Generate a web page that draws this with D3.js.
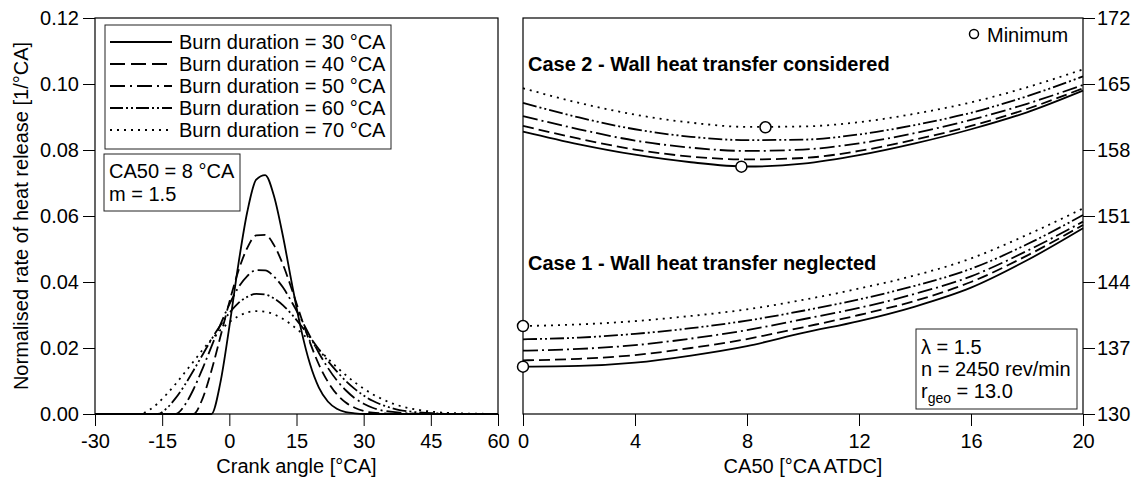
<!DOCTYPE html>
<html lang="en">
<head>
<meta charset="UTF-8">
<title>Burn duration and CA50</title>
<script src="https://d3js.org/d3.v7.min.js"></script>
<style>
  body { margin: 0; background: #fff; }
  svg { display: block; font-family: "Liberation Sans", Arial, sans-serif; }
</style>
</head>
<body>
<script>
// ---- data ----
const burnDurations = [30, 40, 50, 60, 70];

// crank angle grid [°CA] for the heat release curves
const crankAngle = [-30, -28, -26, -24, -22, -20, -18, -16, -14, -12, -10, -8, -6, -4, -2, 0,
  2, 4, 6, 8, 10, 12, 14, 16, 18, 20, 22, 24, 26, 28, 30, 32, 34, 36, 38, 40, 42, 44, 46, 48,
  50, 52, 54, 56, 58, 60];

// normalised rate of heat release [1/°CA], one array per burn duration
const hrr30 = [0, 0, 0, 0, 0, 0, 0, 0, 0, 0, 0, 0, 0, 0, 0.0095, 0.0264,
  0.0452, 0.0612, 0.0710, 0.0724, 0.0659, 0.0537, 0.0393, 0.0258, 0.0152, 0.0080, 0.0038, 0.0016, 0.0006, 0.0002, 0, 0, 0, 0, 0, 0, 0, 0, 0, 0,
  0, 0, 0, 0, 0, 0];
const hrr40 = [0, 0, 0, 0, 0, 0, 0, 0, 0, 0, 0, 0, 0.0046, 0.0131, 0.0234, 0.0339,
  0.0433, 0.0503, 0.0541, 0.0543, 0.0511, 0.0452, 0.0376, 0.0294, 0.0217, 0.0150, 0.0098, 0.0060, 0.0035, 0.0019, 0.0009, 0.0004, 0.0002, 0.0001, 0, 0, 0, 0, 0, 0,
  0, 0, 0, 0, 0, 0];
const hrr50 = [0, 0, 0, 0, 0, 0, 0, 0, 0, 0, 0.0026, 0.0075, 0.0137, 0.0204, 0.0271, 0.0332,
  0.0383, 0.0418, 0.0436, 0.0435, 0.0416, 0.0383, 0.0338, 0.0288, 0.0236, 0.0185, 0.0140, 0.0102, 0.0072, 0.0048, 0.0031, 0.0019, 0.0011, 0.0007, 0.0004, 0.0002, 0.0001, 0, 0, 0,
  0, 0, 0, 0, 0, 0];
const hrr60 = [0, 0, 0, 0, 0, 0, 0, 0, 0.0017, 0.0048, 0.0087, 0.0132, 0.0179, 0.0226, 0.0269, 0.0306,
  0.0336, 0.0355, 0.0364, 0.0362, 0.0350, 0.0329, 0.0301, 0.0268, 0.0233, 0.0196, 0.0161, 0.0129, 0.0100, 0.0076, 0.0056, 0.0040, 0.0028, 0.0019, 0.0012, 0.0008, 0.0005, 0.0003, 0.0002, 0.0001,
  0, 0, 0, 0, 0, 0];
const hrr70 = [0, 0, 0, 0, 0, 0, 0.0011, 0.0032, 0.0060, 0.0091, 0.0125, 0.0159, 0.0194, 0.0226, 0.0254, 0.0278,
  0.0296, 0.0308, 0.0312, 0.0310, 0.0302, 0.0288, 0.0269, 0.0247, 0.0221, 0.0195, 0.0168, 0.0142, 0.0118, 0.0096, 0.0077, 0.0060, 0.0046, 0.0034, 0.0025, 0.0018, 0.0013, 0.0009, 0.0006, 0.0004,
  0.0003, 0.0002, 0.0001, 0.0001, 0, 0];

// right panel: CA50 sweep [°CA ATDC]
const ca50 = [0, 2, 4, 6, 8, 10, 12, 14, 16, 18, 20];

// case 2 - wall heat transfer considered
const case2Bd30 = [159.95, 158.6, 157.5, 156.7, 156.25, 156.55, 157.45, 158.7, 160.2, 162.0, 164.3];
const case2Bd40 = [160.55, 159.2, 158.05, 157.3, 157.0, 157.15, 157.9, 159.1, 160.55, 162.35, 164.55];
const case2Bd50 = [161.6, 160.2, 159.0, 158.25, 157.9, 158.05, 158.7, 159.8, 161.2, 162.9, 164.9];
const case2Bd60 = [163.0, 161.45, 160.2, 159.4, 159.05, 159.1, 159.65, 160.65, 161.95, 163.7, 165.8];
const case2Bd70 = [164.55, 163.0, 161.75, 160.9, 160.45, 160.5, 160.95, 161.85, 163.05, 164.65, 166.55];

// case 1 - wall heat transfer neglected
const case1Bd30 = [135.02, 135.1, 135.45, 136.2, 137.2, 138.6, 139.85, 141.4, 143.4, 146.3, 149.7];
const case1Bd40 = [135.69, 135.85, 136.25, 137.0, 137.95, 139.2, 140.5, 142.0, 144.0, 146.8, 150.05];
const case1Bd50 = [136.72, 136.9, 137.3, 138.0, 138.9, 140.05, 141.25, 142.75, 144.6, 147.3, 150.4];
const case1Bd60 = [137.92, 138.1, 138.5, 139.1, 139.9, 140.95, 142.15, 143.6, 145.4, 148.0, 151.1];
const case1Bd70 = [139.33, 139.5, 139.85, 140.4, 141.1, 142.1, 143.3, 144.7, 146.5, 149.0, 151.8];

// minimum markers
const minCa50 = [7.8, 8.66, 0, 0];
const minValue = [156.23, 160.41, 135.02, 139.33];

const angleTicks = [-30, -15, 0, 15, 30, 45, 60];
const hrrTicks = [0, 0.02, 0.04, 0.06, 0.08, 0.10, 0.12];
const ca50Ticks = [0, 4, 8, 12, 16, 20];
const rightTicks = [130, 137, 144, 151, 158, 165, 172];

// ---- layout ----
const width = 1136, height = 481;
const fs = 20;
const dashes = ["none", "11,5", "15,4,2,4", "14,3,2,3,2,3", "2,5"];
const legendDashes = ["none", "15,6", "15,5,2,5", "13,3,2,3,2,3", "2,5"];

const svg = d3.select("body").append("svg")
  .attr("width", width)
  .attr("height", height);

const xL = d3.scaleLinear().domain([-30, 60]).range([95, 498]);
const yL = d3.scaleLinear().domain([0, 0.12]).range([414, 18]);
const xR = d3.scaleLinear().domain([0, 20]).range([523, 1083]);
const yR = d3.scaleLinear().domain([130, 172]).range([414, 18]);

function styleAxis(g) {
  g.select(".domain").remove();
  g.attr("font-size", fs).attr("font-family", null);
  g.selectAll("line").attr("stroke", "#000");
  g.selectAll("text").attr("fill", "#000");
}

// axes
svg.append("g").attr("transform", "translate(0,414)")
  .call(d3.axisBottom(xL).tickValues(angleTicks).tickSize(12).tickPadding(8).tickFormat(d => String(d)))
  .call(styleAxis);
svg.append("g").attr("transform", "translate(95,0)")
  .call(d3.axisLeft(yL).tickValues(hrrTicks).tickSize(12).tickPadding(4).tickFormat(d3.format(".2f")))
  .call(styleAxis);
svg.append("g").attr("transform", "translate(0,414)")
  .call(d3.axisBottom(xR).tickValues(ca50Ticks).tickSize(12).tickPadding(8).tickFormat(d => String(d)))
  .call(styleAxis);
svg.append("g").attr("transform", "translate(1083,0)")
  .call(d3.axisRight(yR).tickValues(rightTicks).tickSize(12).tickPadding(2).tickFormat(d => String(d)))
  .call(styleAxis);

// frames
svg.append("rect").attr("x", 95).attr("y", 18).attr("width", 403).attr("height", 396)
  .attr("fill", "none").attr("stroke", "#000").attr("stroke-width", 1.2);
svg.append("rect").attr("x", 523).attr("y", 18).attr("width", 560).attr("height", 396)
  .attr("fill", "none").attr("stroke", "#000").attr("stroke-width", 1.2);

// axis titles
svg.append("text").attr("transform", "translate(28,216) rotate(-90)")
  .attr("text-anchor", "middle").attr("font-size", fs)
  .text("Normalised rate of heat release [1/°CA]");
svg.append("text").attr("x", 296.5).attr("y", 473).attr("text-anchor", "middle").attr("font-size", fs)
  .text("Crank angle [°CA]");
svg.append("text").attr("x", 803).attr("y", 473).attr("text-anchor", "middle").attr("font-size", fs)
  .text("CA50 [°CA ATDC]");

// ---- left panel curves ----
const hrrSeries = [hrr30, hrr40, hrr50, hrr60, hrr70];
const lineL = d3.line()
  .x((d, i) => xL(crankAngle[i]))
  .y(d => yL(d))
  .curve(d3.curveMonotoneX);

svg.append("g").selectAll("path")
  .data(hrrSeries)
  .join("path")
  .attr("d", lineL)
  .attr("fill", "none")
  .attr("stroke", "#000")
  .attr("stroke-width", 1.8)
  .attr("stroke-dasharray", (d, i) => dashes[i]);

// legend
svg.append("rect").attr("x", 105).attr("y", 25).attr("width", 286).attr("height", 124)
  .attr("fill", "#fff").attr("stroke", "#222").attr("stroke-width", 1);
const leg = svg.append("g").selectAll("g")
  .data(burnDurations)
  .join("g")
  .attr("transform", (d, i) => `translate(0,${42 + i * 22})`);
leg.append("line").attr("x1", 110).attr("x2", 172)
  .attr("stroke", "#000").attr("stroke-width", 1.8)
  .attr("stroke-dasharray", (d, i) => legendDashes[i]);
leg.append("text").attr("x", 179).attr("dy", "0.35em").attr("font-size", fs)
  .text(d => `Burn duration = ${d} °CA`);

// CA50 / m box
svg.append("rect").attr("x", 104).attr("y", 154).attr("width", 136).attr("height", 57)
  .attr("fill", "#fff").attr("stroke", "#222").attr("stroke-width", 1);
svg.append("text").attr("x", 109).attr("y", 171).attr("dy", "0.35em").attr("font-size", fs).text("CA50 = 8 °CA");
svg.append("text").attr("x", 109).attr("y", 194).attr("dy", "0.35em").attr("font-size", fs).text("m = 1.5");

// ---- right panel curves ----
const lineR = d3.line()
  .x((d, i) => xR(ca50[i]))
  .y(d => yR(d))
  .curve(d3.curveMonotoneX);

const rightSeries = [
  case2Bd30, case2Bd40, case2Bd50, case2Bd60, case2Bd70,
  case1Bd30, case1Bd40, case1Bd50, case1Bd60, case1Bd70
];
svg.append("g").selectAll("path")
  .data(rightSeries)
  .join("path")
  .attr("d", lineR)
  .attr("fill", "none")
  .attr("stroke", "#000")
  .attr("stroke-width", 1.8)
  .attr("stroke-dasharray", (d, i) => dashes[i % 5]);

// minimum markers
svg.append("g").selectAll("circle")
  .data(minCa50)
  .join("circle")
  .attr("cx", d => xR(d))
  .attr("cy", (d, i) => yR(minValue[i]))
  .attr("r", 5.5)
  .attr("fill", "#fff")
  .attr("stroke", "#000")
  .attr("stroke-width", 1.5);

// case labels
svg.append("text").attr("x", 528).attr("y", 64).attr("dy", "0.35em")
  .attr("font-size", fs).attr("font-weight", "bold")
  .text("Case 2 - Wall heat transfer considered");
svg.append("text").attr("x", 528).attr("y", 263).attr("dy", "0.35em")
  .attr("font-size", fs).attr("font-weight", "bold")
  .text("Case 1 - Wall heat transfer neglected");

// minimum legend
svg.append("circle").attr("cx", 974).attr("cy", 34).attr("r", 4.5)
  .attr("fill", "#fff").attr("stroke", "#000").attr("stroke-width", 1.5);
svg.append("text").attr("x", 987).attr("y", 35).attr("dy", "0.35em").attr("font-size", fs).text("Minimum");

// operating point box
svg.append("rect").attr("x", 916).attr("y", 329).attr("width", 161).attr("height", 80)
  .attr("fill", "#fff").attr("stroke", "#222").attr("stroke-width", 1);
svg.append("text").attr("x", 921).attr("y", 347).attr("dy", "0.35em").attr("font-size", fs).text("λ = 1.5");
svg.append("text").attr("x", 921).attr("y", 369).attr("dy", "0.35em").attr("font-size", fs).text("n = 2450 rev/min");
const rg = svg.append("text").attr("x", 921).attr("y", 391).attr("dy", "0.35em").attr("font-size", fs);
rg.append("tspan").text("r");
rg.append("tspan").attr("font-size", 14).attr("dy", 5).text("geo");
rg.append("tspan").attr("dy", -5).text(" = 13.0");
</script>
</body>
</html>
